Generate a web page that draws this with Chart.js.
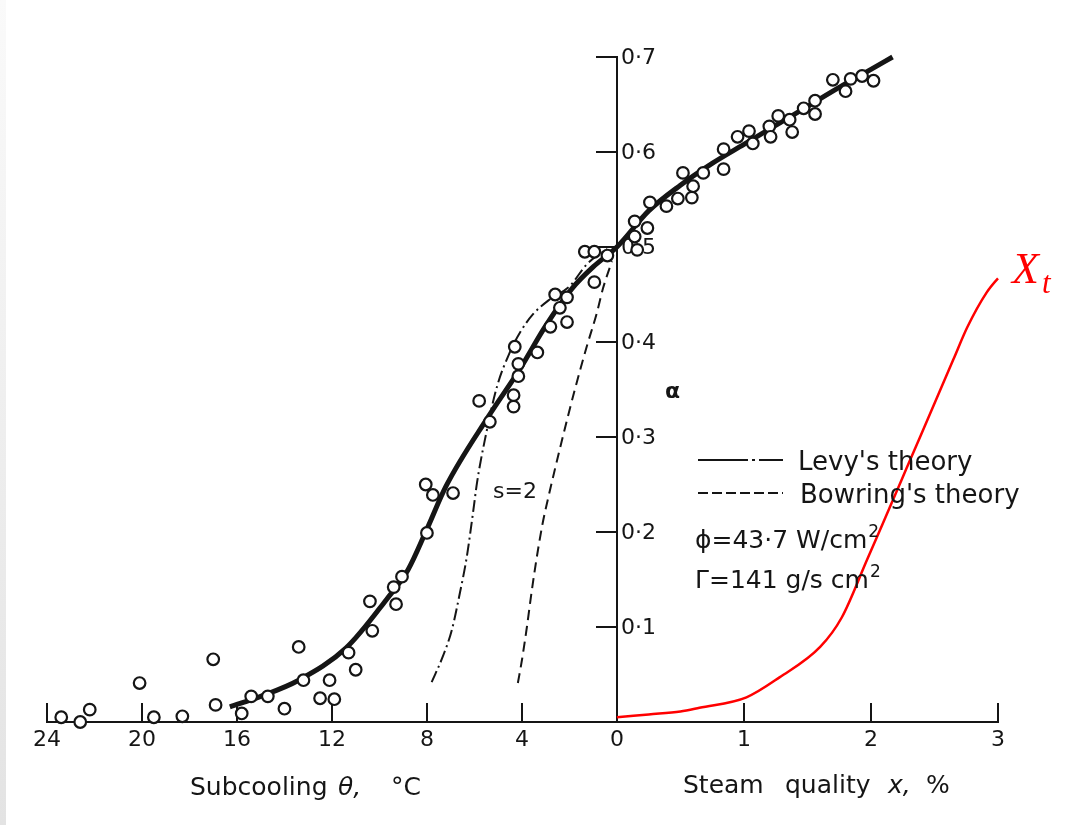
<!DOCTYPE html>
<html>
<head>
<meta charset="utf-8">
<script src="https://cdn.jsdelivr.net/npm/chart.js@4.4.1/dist/chart.umd.min.js"></script>
<style>
  html, body { margin: 0; padding: 0; background: #fff; }
  #wrap { position: relative; width: 1076px; height: 825px; }
  #edge { position: absolute; left: 0; top: 0; width: 6px; height: 825px; background: linear-gradient(#fafafa, #e3e3e3); }
</style>
</head>
<body>
<div id="wrap"><div id="edge"></div><canvas id="myChart" width="1076" height="825"></canvas></div>
<script>
// one abscissa: subcooling (deg C) runs left of zero, steam quality (%) runs right of it
const PCT = 5.35; // 1 % quality takes as much room as 5.35 deg C

const thetaTicks = [24, 20, 16, 12, 8, 4];
const qualityTicks = [0, 1, 2, 3];
const alphaTicks = [0.1, 0.2, 0.3, 0.4, 0.5, 0.6, 0.7];

// measured void fraction, subcooled part
const subTheta = [23.4, 22.6, 22.2, 20.1, 19.5, 18.3, 17.0, 16.9, 15.8, 15.4, 14.7, 14.0, 13.4, 13.2, 12.1, 12.5,
  11.9, 11.3, 11.0, 10.3, 10.4, 9.3, 9.4, 9.05, 8.0, 8.05, 7.75, 6.9, 5.8, 5.35, 4.35, 4.35, 4.15, 4.15, 4.3,
  3.35, 2.8, 2.1, 2.4, 2.6, 2.1, 1.35, 0.95, 0.4, 0.95];
const subAlpha = [0.005, 0.0, 0.013, 0.041, 0.005, 0.006, 0.066, 0.018, 0.009, 0.027, 0.027, 0.014, 0.079, 0.044, 0.044, 0.025,
  0.024, 0.073, 0.055, 0.096, 0.127, 0.124, 0.142, 0.153, 0.199, 0.250, 0.239, 0.241, 0.338, 0.316, 0.344, 0.332, 0.377, 0.364, 0.395,
  0.389, 0.416, 0.421, 0.436, 0.450, 0.447, 0.495, 0.495, 0.491, 0.463];
// measured void fraction, boiling part
const qualX = [0.16, 0.14, 0.14, 0.24, 0.26, 0.39, 0.48, 0.52, 0.60, 0.59, 0.68, 0.84, 0.84, 0.95, 1.04, 1.07,
  1.20, 1.21, 1.27, 1.36, 1.38, 1.47, 1.56, 1.56, 1.70, 1.80, 1.84, 1.93, 2.02];
const qualAlpha = [0.497, 0.511, 0.527, 0.520, 0.547, 0.543, 0.551, 0.578, 0.564, 0.552, 0.578, 0.582, 0.603, 0.616, 0.622, 0.609,
  0.627, 0.616, 0.638, 0.634, 0.621, 0.646, 0.654, 0.640, 0.676, 0.664, 0.677, 0.680, 0.675];

// drawn-through curve
const fitTheta = [16.3, 15.0, 13.4, 11.4, 9.7, 8.8, 8.0, 7.2, 5.4, 4.1, 3.0, 1.9, 1.0, 0];
const fitAlphaSub = [0.016, 0.027, 0.044, 0.078, 0.129, 0.160, 0.203, 0.248, 0.322, 0.371, 0.417, 0.456, 0.479, 0.500];
const fitX = [0.25, 0.5, 0.75, 1.0, 1.25, 1.5, 1.75, 2.0, 2.17];
const fitAlphaQual = [0.538, 0.565, 0.588, 0.608, 0.628, 0.648, 0.668, 0.687, 0.700];

// Levy's theory (s = 2)
const levyTheta = [7.8, 7.33, 6.95, 6.61, 6.32, 6.06, 5.89, 5.56, 5.05, 4.51, 4.08, 3.54, 2.82, 1.98, 1.26, 0.42];
const levyAlpha = [0.042, 0.069, 0.097, 0.136, 0.174, 0.220, 0.252, 0.297, 0.353, 0.389, 0.410, 0.429, 0.445, 0.459, 0.482, 0.498];

// Bowring's theory
const bowTheta = [4.17, 4.0, 3.79, 3.58, 3.37, 3.12, 2.91, 2.27, 1.77, 1.26, 0.84, 0.59, 0.21];
const bowAlpha = [0.041, 0.065, 0.100, 0.139, 0.174, 0.210, 0.234, 0.301, 0.350, 0.396, 0.431, 0.456, 0.485];

// red X_t curve
const xtX = [0, 0.25, 0.5, 0.65, 1.02, 1.28, 1.6, 1.77, 1.97, 2.09, 2.2, 2.28, 2.39, 2.65, 2.76, 2.91, 3.0, 3.04, 3.1, 3.13];
const xtAlpha = [0.005, 0.008, 0.011, 0.015, 0.026, 0.047, 0.079, 0.110, 0.171, 0.208, 0.242, 0.267, 0.301, 0.382, 0.416, 0.452, 0.467, 0.472, 0.464, 0.468];

const ink = '#151515';
const FONT = 'DejaVu Sans';

const fromSub = (th, al) => th.map((t, i) => ({ x: -t, y: al[i] }));
const fromQual = (xs, al) => xs.map((q, i) => ({ x: q * PCT, y: al[i] }));

const xTickValues = thetaTicks.map(t => -t).concat(qualityTicks.map(q => q * PCT));
const xTickLabels = thetaTicks.map(String).concat(qualityTicks.map(String));

const notes = {
  id: 'notes',
  // alpha tick labels sit right of the centre axis, under the data like in the print
  beforeDatasetsDraw(chart) {
    const c = chart.ctx;
    const xs = chart.scales.x, ys = chart.scales.y;
    c.save();
    c.fillStyle = ink;
    c.textBaseline = 'middle';
    c.textAlign = 'left';
    c.font = `22px ${FONT}`;
    const axisX = xs.getPixelForValue(0);
    alphaTicks.forEach(v => {
      c.fillText(v.toFixed(1).replace('.', '·'), axisX + 4, ys.getPixelForValue(v) + 1);
    });
    c.restore();
  },
  afterDraw(chart) {
    const c = chart.ctx;
    c.save();
    c.fillStyle = ink;
    c.textBaseline = 'alphabetic';
    const txt = (s, x, y, font) => { c.font = font; c.fillText(s, x, y); return x + c.measureText(s).width; };

    // axis titles
    txt('Subcooling', 190, 795, `25px ${FONT}`);
    txt('θ,', 338, 795, `italic 25px ${FONT}`);
    txt('°C', 391, 795, `25px ${FONT}`);
    txt('Steam', 683, 793, `25px ${FONT}`);
    txt('quality', 785, 793, `25px ${FONT}`);
    txt('x,', 888, 793, `italic 25px ${FONT}`);
    txt('%', 926, 793, `25px ${FONT}`);

    txt('α', 665, 398, `bold 22px ${FONT}`);
    txt('s=2', 493, 498, `22px ${FONT}`);

    // key
    c.strokeStyle = ink;
    c.lineWidth = 2;
    c.setLineDash([50, 4, 3, 4]);
    c.beginPath(); c.moveTo(698, 460); c.lineTo(783, 460); c.stroke();
    c.setLineDash([10, 4]);
    c.beginPath(); c.moveTo(698, 493); c.lineTo(783, 493); c.stroke();
    c.setLineDash([]);
    txt("Levy's theory", 798, 470, `26px ${FONT}`);
    txt("Bowring's theory", 800, 503, `26px ${FONT}`);
    let e = txt('ϕ=43·7 W/cm', 695, 548, `25px ${FONT}`);
    txt('2', e + 1, 537, `17px ${FONT}`);
    e = txt('Γ=141 g/s cm', 695, 588, `25px ${FONT}`);
    txt('2', e + 1, 577, `17px ${FONT}`);

    // X_t label
    c.fillStyle = '#f00';
    txt('X', 1012, 283, `italic 44px "Liberation Serif"`);
    txt('t', 1042, 293, `italic 31px "Liberation Serif"`);
    c.restore();
  }
};

const config = {
  type: 'scatter',
  data: {
    datasets: [
      {
        label: 'measured',
        data: fromSub(subTheta, subAlpha).concat(fromQual(qualX, qualAlpha)),
        pointStyle: 'circle',
        pointRadius: 5.8,
        borderWidth: 2.2,
        borderColor: ink,
        backgroundColor: '#fff',
        clip: false
      },
      {
        label: 'fit',
        data: fromSub(fitTheta, fitAlphaSub).concat(fromQual(fitX, fitAlphaQual)),
        showLine: true,
        pointRadius: 0,
        borderColor: ink,
        borderWidth: 5,
        cubicInterpolationMode: 'monotone',
        clip: false
      },
      {
        label: "Levy's theory",
        data: fromSub(levyTheta, levyAlpha),
        showLine: true,
        pointRadius: 0,
        borderColor: ink,
        borderWidth: 2,
        borderDash: [12, 4, 2, 4],
        cubicInterpolationMode: 'monotone',
        clip: false
      },
      {
        label: "Bowring's theory",
        data: fromSub(bowTheta, bowAlpha),
        showLine: true,
        pointRadius: 0,
        borderColor: ink,
        borderWidth: 2,
        borderDash: [10, 6],
        cubicInterpolationMode: 'monotone',
        clip: false
      },
      {
        label: 'Xt',
        data: fromQual(xtX, xtAlpha),
        showLine: true,
        pointRadius: 0,
        borderColor: '#f00',
        borderWidth: 2.5,
        cubicInterpolationMode: 'monotone',
        clip: false
      }
    ]
  },
  options: {
    responsive: false,
    animation: false,
    layout: { padding: { left: 47, right: 78, top: 57, bottom: 103 } },
    plugins: { legend: { display: false }, tooltip: { enabled: false } },
    scales: {
      x: {
        type: 'linear',
        position: { y: 0 },
        min: -24,
        max: 3 * PCT,
        bounds: 'data',
        afterBuildTicks: s => { s.ticks = xTickValues.map(v => ({ value: v })); },
        ticks: {
          autoSkip: false,
          maxRotation: 0,
          padding: 25,
          color: ink,
          font: { family: FONT, size: 22 },
          callback: (v, i) => xTickLabels[i]
        },
        grid: { drawOnChartArea: false, drawTicks: true, tickLength: -20, color: ink, lineWidth: 2 },
        border: { display: true, color: ink, width: 2 }
      },
      y: {
        type: 'linear',
        position: { x: 0 },
        min: 0,
        max: 0.7,
        bounds: 'data',
        afterBuildTicks: s => { s.ticks = alphaTicks.map(v => ({ value: v })); },
        ticks: { display: false },
        grid: { drawOnChartArea: false, drawTicks: true, tickLength: 20, color: ink, lineWidth: 2 },
        border: { display: true, color: ink, width: 2 }
      }
    }
  },
  plugins: [notes]
};

const myChart = new Chart(document.getElementById('myChart'), config);
</script>
</body>
</html>
